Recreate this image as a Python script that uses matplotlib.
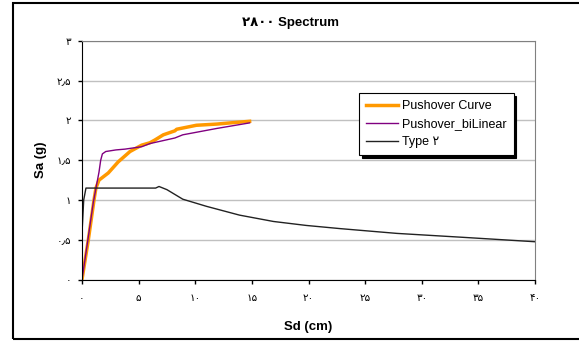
import numpy as np
import matplotlib
matplotlib.use('Agg')
import matplotlib.pyplot as plt
from matplotlib.patches import Rectangle

matplotlib.rcParams['font.family'] = ['Liberation Sans', 'DejaVu Sans']

# pushover curve (orange)
push_x = [0, 0.56, 1.06, 1.23, 1.5, 2.32, 3.2, 4.24, 5.27, 6.0, 6.44, 7.18, 8.2,
          8.36, 10.1, 11.9, 13.1, 14.8]
push_y = [0, 0.5, 1.0, 1.15, 1.25, 1.34, 1.48, 1.61, 1.69, 1.72, 1.755, 1.82, 1.87,
          1.89, 1.94, 1.955, 1.97, 1.99]

# bilinear idealisation (purple)
bil_x = [0, 0.5, 1.0, 1.3, 1.5, 1.65, 1.8, 2.1, 3.0, 3.8, 5.27, 6.0, 8.2, 8.9, 11.9, 14.8]
bil_y = [0, 0.48, 0.97, 1.2, 1.35, 1.5, 1.58, 1.61, 1.63, 1.64, 1.67, 1.71, 1.78, 1.82, 1.9, 1.97]

# design spectrum, soil type 2 (black)
spec_x = [0, 0.15, 0.35, 6.5, 6.8, 7.5, 8.9, 11, 13.9, 16.9, 19.8, 22.8, 27.8, 33.7, 36, 40]
spec_y = [0.58, 1.0, 1.15, 1.15, 1.17, 1.13, 1.01, 0.92, 0.81, 0.73, 0.68, 0.64, 0.58,
          0.53, 0.51, 0.475]

fa = '۰۱۲۳۴۵۶۷۸۹'
def fa_num(s):
    return ''.join(fa[int(c)] if c.isdigit() else c for c in s)

xticks = list(range(0, 45, 5))
yticks = [0, 0.5, 1, 1.5, 2, 2.5, 3]
xlabels = [fa_num(str(v)) for v in xticks]
ylabels = [fa_num(('%g' % v).replace('.', '٫')) for v in yticks]

fig = plt.figure(figsize=(5.79, 3.41), dpi=100)
fig.patches.append(Rectangle((13/579, 2/341), 1.0, 336/341, transform=fig.transFigure,
                             fill=False, edgecolor='black', linewidth=1.5, clip_on=False))

ax = fig.add_axes([82/579, 61.5/341, 453/579, 238.5/341])
ax.plot(push_x, push_y, color='#FF9900', lw=2.5, label='Pushover Curve')
ax.plot(bil_x, bil_y, color='#800080', lw=1.0, label='Pushover_biLinear')
ax.plot(spec_x, spec_y, color='#222222', lw=1.0, label='Type ۲')

ax.set_xlim(0, 40)
ax.set_ylim(0, 3)
ax.set_xticks(xticks)
ax.set_xticklabels(xlabels, fontsize=7.5)
ax.set_yticks(yticks)
ax.set_yticklabels(ylabels, fontsize=7.5)
ax.tick_params(direction='out', length=3, width=1)
ax.tick_params(axis='x', pad=7)
ax.tick_params(axis='y', pad=5)
ax.yaxis.grid(True, color='#c0c0c0', lw=1)
ax.set_axisbelow(True)
for s in ['top', 'right']:
    ax.spines[s].set_color('#808080')
for s in ['left', 'bottom']:
    ax.spines[s].set_color('black')

ax.set_xlabel('Sd (cm)', fontsize=9.5, fontweight='bold', labelpad=13)
ax.set_ylabel('Sa (g)', fontsize=9.5, fontweight='bold', labelpad=7)
fig.text(290/579, 1 - 23/341, '۲۸۰۰ Spectrum', ha='center', va='center',
         fontsize=9.5, fontweight='bold')

leg = ax.legend(loc='upper left', bbox_to_anchor=(359/579, 1 - 93/341),
                bbox_transform=fig.transFigure, borderaxespad=0, fontsize=9,
                fancybox=False, framealpha=1, edgecolor='black',
                shadow={'color': 'black', 'alpha': 1, 'ox': 2, 'oy': -2},
                handlelength=2.6, handletextpad=0.3, labelspacing=0.5,
                borderpad=0.55)
leg.get_frame().set_linewidth(0.8)

fig.savefig('out.png', dpi=100)
